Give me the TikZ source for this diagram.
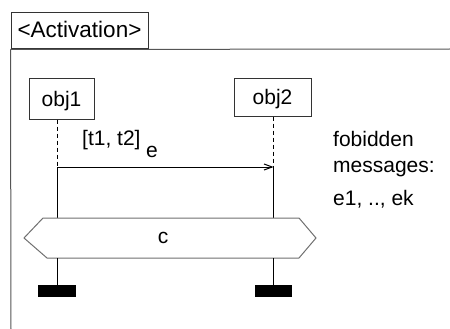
\documentclass[tikz,border=0pt]{standalone}
\usepackage{fontspec}
\setmainfont{Liberation Sans}
\usetikzlibrary{arrows.meta}
\definecolor{framegray}{HTML}{555555}
\definecolor{hexgray}{HTML}{707070}
\definecolor{boxgray}{HTML}{333333}
\begin{document}
\begin{tikzpicture}[x=1pt,y=-1pt,
  txt/.style={font=\fontsize{21}{25}\selectfont, inner sep=0pt},
  objbox/.style={draw=boxgray, line width=1pt, inner sep=0pt, text height=14.5pt, text depth=0pt, font=\fontsize{21}{25}\selectfont},
  lifedash/.style={line width=1pt, dash pattern=on 4pt off 3pt},
  life/.style={line width=1pt},
  msg/.style={line width=1pt, -{Straight Barb[length=8pt,width=6pt]}},
  stopbar/.style={fill=black, minimum width=37pt, minimum height=12pt, inner sep=0pt},
  framel/.style={draw=framegray, line width=1pt},
]
\useasboundingbox (0,0) rectangle (450,329);
% frame and title
\node[objbox, minimum width=137pt, minimum height=36pt, text height=14pt, font=\fontsize{22.5}{26}\selectfont] (title) at (79.5,31) {<Activation>};
\coordinate (fright) at (450,49);
\coordinate (fbottom) at (11,329);
\draw[framel] (title.south west) -- (fright);
\draw[framel] (title.south west) -- (fbottom);
% objects
\node[objbox, minimum width=65pt, minimum height=40pt] (obj1) at (61.5,99) {obj1};
\node[objbox, minimum width=77pt, minimum height=37pt] (obj2) at (272.5,97.5) {obj2};
% message
\coordinate (m1) at (57,167);
\coordinate (m2) at (273.5,167);
\draw[lifedash] (obj1.south -| m1) -- (m1);
\draw[lifedash] (obj2.south -| m2) -- (m2);
\draw[msg] (m1) -- (m2);
\node[txt, anchor=base west] (tlab) at (82,145) {[t1, t2]};
\node[txt, anchor=base west] (elab) at (146,157) {e};
% coregion / condition
\coordinate (h1t) at (57,218);
\coordinate (h2t) at (273.5,218);
\coordinate (h1b) at (57,258);
\coordinate (h2b) at (273.5,258);
\draw[life] (m1) -- (h1t);
\draw[life] (m2) -- (h2t);
\draw[draw=hexgray, line width=1pt, fill=white] (43,218) -- (299,218) -- (316,238) -- (299,258) -- (47,258) -- (24,238) -- cycle;
\node[txt] (c) at (163,238) {c};
% stops
\node[stopbar, minimum width=38pt] (s1) at (57,291) {};
\node[stopbar, minimum width=37pt] (s2) at (273.5,291) {};
\draw[life] (h1b) -- (s1.north);
\draw[life] (h2b) -- (s2.north);
% note
\node[txt, anchor=base west] (n1) at (333,146) {fobidden};
\node[txt, anchor=base west] (n2) at (333,172) {messages:};
\node[txt, anchor=base west] (n3) at (333,205) {e1, .., ek};
\end{tikzpicture}
\end{document}
